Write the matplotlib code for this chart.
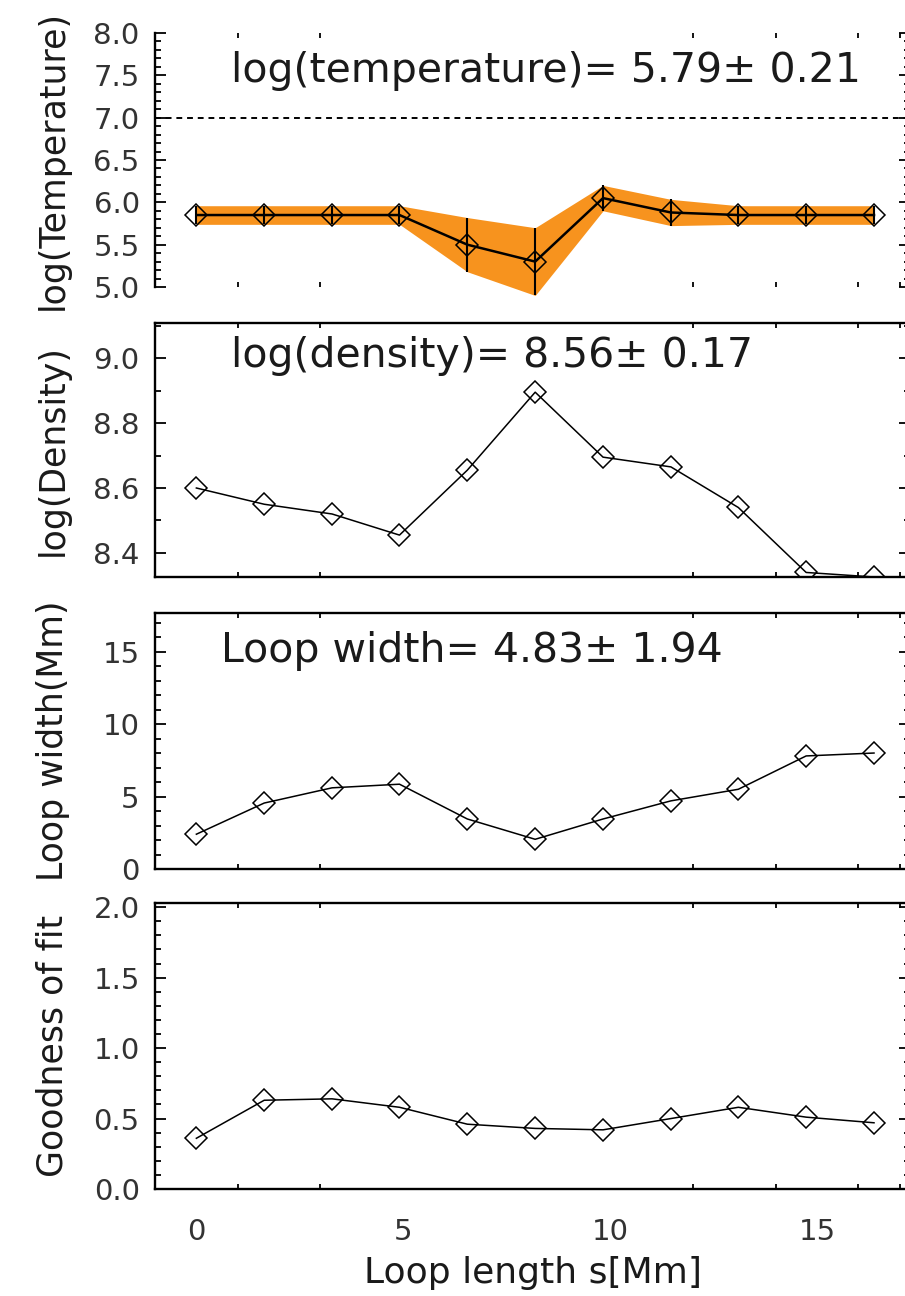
import matplotlib
matplotlib.use("Agg")
import matplotlib.pyplot as plt
from matplotlib.ticker import MultipleLocator, FixedLocator

# positions along the loop (Mm)
s = [0.0, 1.64, 3.28, 4.91, 6.55, 8.19, 9.83, 11.47, 13.10, 14.74, 16.38]

log_temp = [5.85, 5.85, 5.85, 5.85, 5.50, 5.30, 6.05, 5.88, 5.85, 5.85, 5.85]
log_temp_err = [0.11, 0.11, 0.11, 0.11, 0.32, 0.40, 0.15, 0.155, 0.11, 0.11, 0.11]
log_dens = [8.60, 8.55, 8.52, 8.455, 8.655, 8.895, 8.695, 8.665, 8.54, 8.34, 8.326]
loop_width = [2.4, 4.55, 5.6, 5.85, 3.45, 2.05, 3.45, 4.7, 5.5, 7.8, 8.0]
goodness = [0.36, 0.63, 0.64, 0.58, 0.46, 0.43, 0.42, 0.50, 0.58, 0.51, 0.47]

temp_text = "log(temperature)= 5.79\u00b1 0.21"
dens_text = "log(density)= 8.56\u00b1 0.17"
width_text = "Loop width= 4.83\u00b1 1.94"

x_major = [0, 5, 10, 15]
x_minor = [1, 3, 10, 12, 14, 16, 17]

plt.rcParams['font.family'] = 'DejaVu Sans'
plt.rcParams['text.color'] = '#1a1a1a'
plt.rcParams['axes.labelcolor'] = '#1a1a1a'
plt.rcParams['xtick.color'] = 'black'
plt.rcParams['ytick.color'] = 'black'
plt.rcParams['xtick.labelcolor'] = '#333333'
plt.rcParams['ytick.labelcolor'] = '#333333'

W, H = 905, 1296
fig = plt.figure(figsize=(W / 100, H / 100), dpi=100)

left_px, right_px = 155, 910


def panel(top_px, bot_px):
    return fig.add_axes([left_px / W, 1 - bot_px / H,
                         (right_px - left_px) / W, (bot_px - top_px) / H])


ax1 = panel(33, 287)
ax2 = panel(323, 577)
ax3 = panel(613, 869)
ax4 = panel(903, 1189)
axes = [ax1, ax2, ax3, ax4]

marker_style = dict(marker='D', ms=11, mfc='none', mec='black', mew=1.1)

# temperature with uncertainty band (allowed to spill below the frame)
ax1.fill_between(s, [t - e for t, e in zip(log_temp, log_temp_err)],
                 [t + e for t, e in zip(log_temp, log_temp_err)],
                 color='#f7931e', lw=0, zorder=1, clip_on=False)
ax1.axhline(7.0, color='black', lw=1.4, ls=(0, (3, 2.5)), zorder=2)
ax1.errorbar(s, log_temp, yerr=log_temp_err, fmt='none', ecolor='black',
             elinewidth=1.5, capsize=0, zorder=3, clip_on=False)
ax1.plot(s, log_temp, color='black', lw=1.8, zorder=4, clip_on=False,
         **marker_style)
ax1.set_ylim(5.0, 8.0)
ax1.yaxis.set_major_locator(MultipleLocator(0.5))
ax1.yaxis.set_minor_locator(MultipleLocator(0.1))
ax1.yaxis.set_major_formatter('{x:.1f}')
ax1.set_ylabel('log(Temperature)', fontsize=25)
ax1.spines['top'].set_visible(False)
ax1.spines['bottom'].set_visible(False)
ax1.text(0.1007, 0.807, temp_text, transform=ax1.transAxes,
         fontsize=29.5, ha='left', va='baseline')

ax2.plot(s, log_dens, color='black', lw=1.1, **marker_style)
ax2.set_ylim(8.326, 9.108)
ax2.yaxis.set_major_locator(MultipleLocator(0.2))
ax2.yaxis.set_minor_locator(MultipleLocator(0.1))
ax2.yaxis.set_major_formatter('{x:.1f}')
ax2.set_ylabel('log(Density)', fontsize=25)
ax2.text(0.1007, 0.827, dens_text, transform=ax2.transAxes,
         fontsize=29.5, ha='left', va='baseline')

ax3.plot(s, loop_width, color='black', lw=1.1, **marker_style)
ax3.set_ylim(0, 17.66)
ax3.yaxis.set_major_locator(MultipleLocator(5))
ax3.yaxis.set_minor_locator(MultipleLocator(1))
ax3.set_ylabel('Loop width(Mm)', fontsize=25)
ax3.text(0.087, 0.809, width_text, transform=ax3.transAxes,
         fontsize=29.5, ha='left', va='baseline')

ax4.plot(s, goodness, color='black', lw=1.1, **marker_style)
ax4.set_ylim(0, 2.03)
ax4.yaxis.set_major_locator(MultipleLocator(0.5))
ax4.yaxis.set_minor_locator(MultipleLocator(0.1))
ax4.yaxis.set_major_formatter('{x:.1f}')
ax4.set_ylabel('Goodness of fit', fontsize=25)
ax4.set_xlabel('Loop length s[Mm]', fontsize=26)
ax4.xaxis.set_label_coords(0.5, -0.235)

for ax in axes:
    ax.set_xlim(-1.0, 17.25)
    ax.xaxis.set_major_locator(FixedLocator(x_major))
    ax.xaxis.set_minor_locator(FixedLocator(x_minor))
    ax.tick_params(axis='both', which='both', direction='in',
                   top=True, right=True, width=1.3)
    ax.tick_params(axis='y', which='major', length=8, labelsize=21, pad=11)
    ax.tick_params(axis='y', which='minor', length=4.5)
    ax.tick_params(axis='x', which='major', length=0, labelsize=21, pad=21)
    ax.tick_params(axis='x', which='minor', length=3.5)
    ax.yaxis.set_label_coords(-0.113, 0.5)
    for sp in ax.spines.values():
        sp.set_linewidth(1.7)
    if ax is not ax4:
        ax.tick_params(axis='x', labelbottom=False)

fig.savefig('out.png', dpi=100)
